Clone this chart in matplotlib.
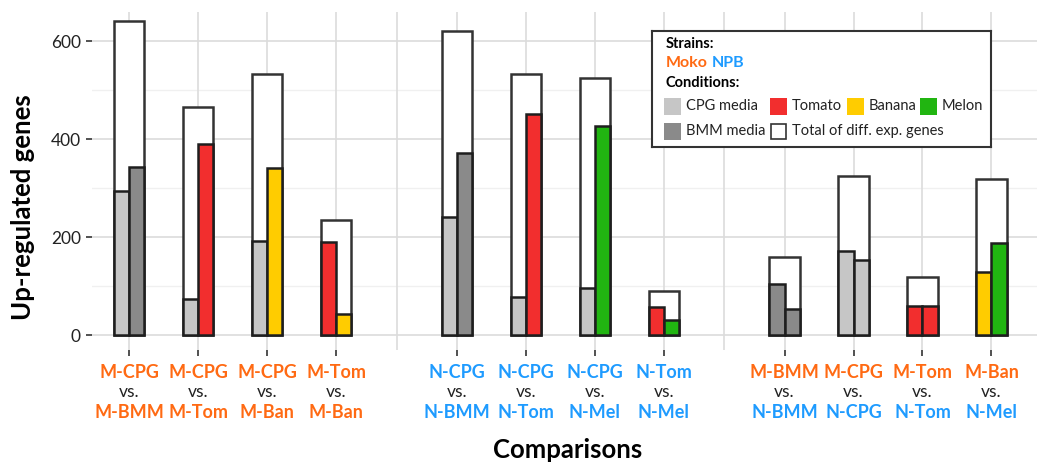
import numpy as np
import matplotlib
matplotlib.use("Agg")
import matplotlib.pyplot as plt
from matplotlib.patches import Rectangle
from matplotlib.transforms import blended_transform_factory

plt.rcParams['font.family'] = ['Lato', 'DejaVu Sans']

# data
top_labels = ["M-CPG", "M-CPG", "M-CPG", "M-Tom", "N-CPG", "N-CPG", "N-CPG", "N-Tom",
              "M-BMM", "M-CPG", "M-Tom", "M-Ban"]
bottom_labels = ["M-BMM", "M-Tom", "M-Ban", "M-Ban", "N-BMM", "N-Tom", "N-Mel", "N-Mel",
                 "N-BMM", "N-CPG", "N-Tom", "N-Mel"]
totals = [641, 466, 534, 236, 621, 534, 525, 91, 159, 326, 120, 319]
first_vals = [295, 74, 192, 190, 242, 79, 96, 57, 104, 172, 60, 129]
second_vals = [344, 390, 341, 44, 372, 452, 428, 31, 53, 153, 59, 189]
first_cond = ["CPG", "CPG", "CPG", "Tom", "CPG", "CPG", "CPG", "Tom", "BMM", "CPG", "Tom", "Ban"]
second_cond = ["BMM", "Tom", "Ban", "Ban", "BMM", "Tom", "Mel", "Mel", "BMM", "CPG", "Tom", "Mel"]

cond_colors = {"CPG": "#C6C6C6", "BMM": "#8A8A8A", "Tom": "#F22E2E",
               "Ban": "#FFCC00", "Mel": "#21B511"}
strain_colors = {"M": "#FF6A13", "N": "#1E9BFF"}
edge = "#1E1E1E"

# x layout: three groups of four, wider gap between groups
group_step = 4.75
xpos = np.array([g * group_step + i + 1 for g in range(3) for i in range(4)])
separators = [xpos[3] + (xpos[4] - xpos[3]) / 2, xpos[7] + (xpos[8] - xpos[7]) / 2]
w = 0.44

fig = plt.figure(figsize=(10.37, 4.63), dpi=100)
ax = fig.add_axes([92 / 1037, 1 - 350 / 463, 1 - 92 / 1037, (350 - 12) / 463])

ax.set_xlim(0.46, 14.16)
ax.set_ylim(-30, 660)

# grid
for y in [100, 300, 500]:
    ax.axhline(y, color="#F0F0F0", lw=1, zorder=0)
for y in [0, 200, 400, 600]:
    ax.axhline(y, color="#DCDCDC", lw=1.2, zorder=0)
for x in list(xpos) + separators:
    ax.axvline(x, color="#DCDCDC", lw=1.2, zorder=0)

# bars
ax.bar(xpos, totals, width=w, color="white", edgecolor="#333333", lw=1.8, zorder=2)
ax.bar(xpos - w / 2, first_vals, width=w / 2, align="edge",
       color=[cond_colors[c] for c in first_cond], edgecolor=edge, lw=1.8, zorder=3)
ax.bar(xpos, second_vals, width=w / 2, align="edge",
       color=[cond_colors[c] for c in second_cond], edgecolor=edge, lw=1.8, zorder=3)

for s in ax.spines.values():
    s.set_visible(False)

ax.set_yticks([0, 200, 400, 600])
ax.set_yticklabels(["0", "200", "400", "600"], fontsize=12.5, color="#222222")
ax.set_xticks(xpos)
ax.set_xticklabels([""] * len(xpos))
ax.tick_params(axis="both", length=4, width=1.2, color="#333333", pad=4)

# three-line x tick labels
tr = blended_transform_factory(ax.transData, fig.transFigure)
for x, t, b in zip(xpos, top_labels, bottom_labels):
    ax.text(x, 1 - 372 / 463, t, transform=tr, ha="center", va="center",
            fontsize=13, fontweight="bold", color=strain_colors[t[0]])
    ax.text(x, 1 - 392 / 463, "vs.", transform=tr, ha="center", va="center",
            fontsize=12.5, color="#222222")
    ax.text(x, 1 - 413 / 463, b, transform=tr, ha="center", va="center",
            fontsize=13, fontweight="bold", color=strain_colors[b[0]])

fig.text(23 / 1037, 1 - 207 / 463, "Up-regulated genes", rotation=90, ha="center",
         va="center", fontsize=18.5, fontweight="bold", color="black")
fig.text(568 / 1037, 1 - 450 / 463, "Comparisons", ha="center", va="center",
         fontsize=18.5, fontweight="bold", color="black")

# legend box
lg = fig.add_axes([652 / 1037, 1 - 147 / 463, 339 / 1037, 116 / 463])
lg.set_xlim(0, 339)
lg.set_ylim(116, 0)
lg.set_xticks([])
lg.set_yticks([])
for s in lg.spines.values():
    s.set_color("#333333")
    s.set_linewidth(1.5)

lg.text(14, 13, "Strains:", fontsize=10.5, fontweight="bold", va="center")
lg.text(14, 32, "Moko", fontsize=11.5, fontweight="bold", va="center", color=strain_colors["M"])
lg.text(60, 32, "NPB", fontsize=11.5, fontweight="bold", va="center", color=strain_colors["N"])
lg.text(14, 52, "Conditions:", fontsize=10.5, fontweight="bold", va="center")

legend_items = [
    (12, 75, cond_colors["CPG"], "CPG media"),
    (118, 75, cond_colors["Tom"], "Tomato"),
    (195, 75, cond_colors["Ban"], "Banana"),
    (268, 75, cond_colors["Mel"], "Melon"),
    (12, 100, cond_colors["BMM"], "BMM media"),
]
for px, py, col, lab in legend_items:
    lg.add_patch(Rectangle((px, py - 8), 16.5, 16.5, facecolor=col, edgecolor="none"))
    lg.text(px + 21.5, py, lab, fontsize=10.5, va="center", color="#222222")
lg.add_patch(Rectangle((118.5, 100 - 7.5), 15.5, 15.5, facecolor="white",
                       edgecolor="#333333", lw=1.2))
lg.text(139.5, 100, "Total of diff. exp. genes", fontsize=10.5, va="center", color="#222222")

fig.savefig("out.png", dpi=100)
